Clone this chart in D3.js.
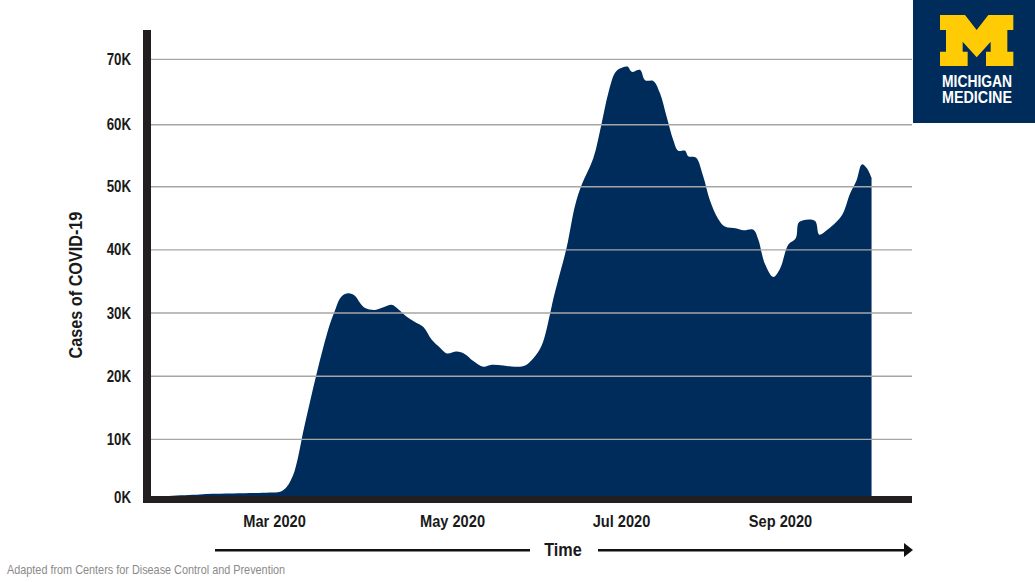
<!DOCTYPE html>
<html>
<head>
<meta charset="utf-8">
<script src="https://cdn.jsdelivr.net/npm/d3@7"></script>
<style>
  html, body { margin: 0; padding: 0; background: #fff; }
  svg { display: block; }
  text { font-family: "Liberation Sans", sans-serif; font-weight: bold; fill: #1a1a1a; }
</style>
</head>
<body>
<script>
// day of year 2020
const days = [18.5, 35.6, 52.8, 59.6, 63.1, 65.4, 67.6, 69.3, 71, 73.3, 75.6, 77.9, 80.2, 81.9, 83.6, 85.3, 87, 88.8,
  90.5, 92.2, 95.6, 98.5, 101.3, 103.6, 106.5, 109.3, 112.2, 115, 117.9, 120.2, 123.7, 126.7, 129.7, 133.3, 136.3,
  140.5, 144.7, 148.4, 151.3, 154.4, 157.4, 158.6, 160.3, 163.4, 166.4, 168.8, 173, 176, 178.4, 180.8, 182.6, 185.5,
  187.2, 190.4, 192.4, 195.6, 198.2, 200.8, 203.4, 205.3, 208, 209.2, 212.2, 215.1, 217.7, 220.9, 223.5, 228.1, 230.7,
  234.6, 236.5, 239.1, 242.4, 245, 248.2, 251.2, 252.5, 258.6, 260.3, 263.2, 269, 272.3, 274.9, 276.9, 278.8, 280.7]

// cases, in thousands
const cases = [0.9, 1.3, 1.5, 1.6, 1.7, 2.5, 4.4, 7.3, 11.2, 15.9, 20.4, 24.6, 28.3, 30.4, 32.3, 33, 33.1, 32.7,
  31.6, 30.8, 30.5, 30.9, 31.3, 30.6, 29.4, 28.6, 27.8, 25.8, 24.5, 23.6, 23.9, 23.5, 22.4, 21.5, 21.8,
  21.7, 21.5, 21.7, 22.8, 24.9, 29.9, 32.3, 35.2, 40.4, 47, 50.3, 54.6, 60.2, 64.8, 67.9, 68.6, 68.9,
  68.1, 68.4, 66.8, 66.7, 64.8, 61.2, 57.5, 55.8, 55.8, 54.9, 54.7, 51.6, 47.8, 44.9, 43.7, 43.4, 43.1,
  43.2, 41.7, 37.8, 35.7, 37, 40.8, 41.9, 44.4, 44.6, 42.4, 43.1, 45.4, 48.9, 51.1, 53.6, 53, 51.4]

const yTicks = [0, 10, 20, 30, 40, 50, 60, 70]
const xTickDays = [61, 122, 183, 245]
const xTickLabels = ['Mar 2020', 'May 2020', 'Jul 2020', 'Sep 2020']

const m = { width: 1035, height: 582, left: 151, right: 912 }
const navy = '#002c5c'
const axisColor = '#231f20'

const svg = d3.select('body').append('svg')
  .attr('width', m.width)
  .attr('height', m.height)

const x = d3.scaleLinear().domain(xTickDays).range([274, 452, 621, 780])
// the picture's gridlines are not quite evenly spaced
const y = d3.scaleLinear().domain([0, 50, 60, 70]).range([502.6, 186.7, 124.7, 59.4])

// no condensed face installed, so squeeze the text to the width in the picture
function squeeze(sel, ratio) {
  sel.each(function() {
    d3.select(this)
      .attr('textLength', this.getComputedTextLength() * ratio)
      .attr('lengthAdjust', 'spacingAndGlyphs')
  })
}

const points = days.map((d, i) => [d, cases[i]])

const area = d3.area()
  .x(d => x(d[0]))
  .y0(y(0))
  .y1(d => y(d[1]))
  .curve(d3.curveCatmullRom.alpha(0.5))

svg.append('path')
  .attr('d', area(points))
  .attr('fill', navy)

// gridlines sit on top of the area
svg.selectAll('.grid')
  .data(yTicks.slice(1))
  .enter()
  .append('line')
    .attr('class', 'grid')
    .attr('x1', m.left)
    .attr('x2', m.right)
    .attr('y1', d => y(d))
    .attr('y2', d => y(d))
    .attr('stroke', '#a6a6a6')
    .attr('stroke-width', 1.4)

// heavy axis bars
svg.append('rect').attr('x', 143).attr('y', 30).attr('width', 8).attr('height', 473).attr('fill', axisColor)
svg.append('rect').attr('x', 143).attr('y', 496).attr('width', m.right - 143).attr('height', 7).attr('fill', axisColor)

const yAxis = d3.axisLeft(y).tickValues(yTicks).tickSize(0).tickPadding(0).tickFormat(d => d + 'K')
const yG = svg.append('g').attr('transform', 'translate(131,0)').call(yAxis)
yG.select('.domain').remove()
yG.selectAll('text')
  .attr('font-size', 17)
  .attr('dy', d => d === 0 ? '0.02em' : '0.3em')
  .call(squeeze, 0.78)

const xAxis = d3.axisBottom(x).tickValues(xTickDays).tickSize(0).tickPadding(0).tickFormat((d, i) => xTickLabels[i])
const xG = svg.append('g').attr('transform', 'translate(0,515)').call(xAxis)
xG.select('.domain').remove()
xG.selectAll('text')
  .attr('font-size', 17)
  .attr('dy', '0.71em')
  .attr('y', 0)
  .call(squeeze, 0.86)

svg.append('text')
  .attr('transform', 'translate(82,285) rotate(-90)')
  .attr('text-anchor', 'middle')
  .attr('font-size', 18)
  .text('Cases of COVID-19')
  .call(squeeze, 0.9)

// time arrow
svg.append('text')
  .attr('x', 563).attr('y', 556)
  .attr('text-anchor', 'middle')
  .attr('font-size', 18)
  .text('Time')
  .call(squeeze, 0.9)
svg.append('rect').attr('x', 215).attr('y', 549).attr('width', 315).attr('height', 2.5).attr('fill', '#111')
svg.append('rect').attr('x', 598).attr('y', 549).attr('width', 308).attr('height', 2.5).attr('fill', '#111')
svg.append('path')
  .attr('d', d3.line()([[904, 543], [913, 550], [904, 557]]))
  .attr('fill', '#111')

svg.append('text')
  .attr('x', 7).attr('y', 574)
  .attr('font-size', 13)
  .style('font-weight', 'normal')
  .style('fill', '#8a8a8a')
  .text('Adapted from Centers for Disease Control and Prevention')
  .call(squeeze, 0.835)

// logo block
const logo = svg.append('g')
logo.append('rect').attr('x', 913).attr('y', 0).attr('width', 122).attr('height', 123).attr('fill', navy)

const blockM = [[120, 45], [195, 45], [230, 90], [265, 45], [340, 45], [340, 90], [322, 90], [322, 155], [340, 155],
  [340, 198], [258, 198], [258, 155], [272, 155], [272, 125], [230, 172], [188, 125], [188, 155], [203, 155],
  [203, 198], [120, 198], [120, 155], [138, 155], [138, 90], [120, 90]]
logo.append('path')
  .attr('d', d3.line()(blockM.map(p => [900 + p[0] / 3, p[1] / 3])) + 'Z')
  .attr('fill', '#ffcb05')

logo.selectAll('.logotext')
  .data([['MICHIGAN', 87], ['MEDICINE', 103]])
  .enter()
  .append('text')
    .attr('x', 977)
    .attr('y', d => d[1])
    .attr('text-anchor', 'middle')
    .attr('font-size', 16)
    .attr('textLength', 70)
    .attr('lengthAdjust', 'spacingAndGlyphs')
    .style('fill', '#fff')
    .text(d => d[0])
</script>
</body>
</html>
